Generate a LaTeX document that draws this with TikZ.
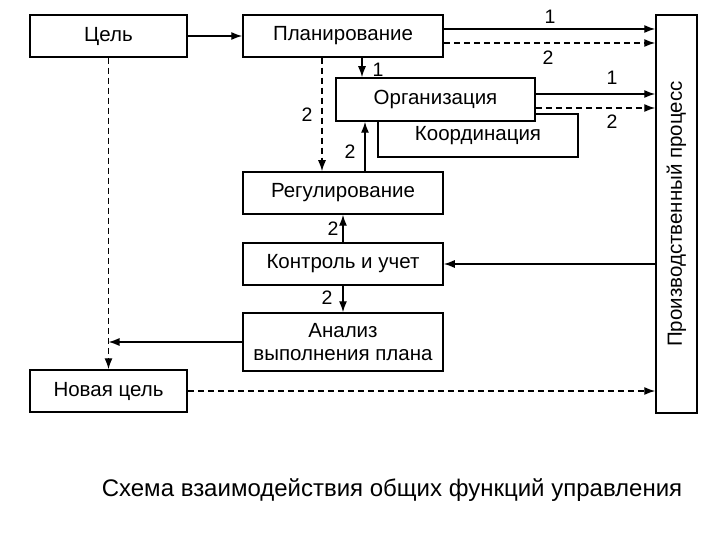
\documentclass[tikz,border=0pt]{standalone}
\usepackage{fontspec}
\setmainfont{Liberation Sans}
\usetikzlibrary{arrows.meta,calc}
\begin{document}
\begin{tikzpicture}[x=1pt,y=-1pt,
  box/.style={draw,line width=1.5pt,fill=white,inner sep=0pt,font=\fontsize{20.5}{23}\selectfont,align=center},
  conn/.style={line width=1.3pt,-{Latex[length=11pt,width=8pt]}},
  dconn/.style={conn,dash pattern=on 6pt off 4pt},
  lbl/.style={font=\fontsize{19.5}{22}\selectfont,inner sep=0pt}]
\useasboundingbox (0,0) rectangle (720,540);
\node[box,minimum width=157pt,minimum height=42pt] (goal) at (108.5,36) {Цель};
\node[box,minimum width=200pt,minimum height=42pt] (plan) at (343,36) {Планирование};
\node[box,minimum width=200pt,minimum height=43pt] (coord) at (478,135.5) {Координация};
\node[box,minimum width=199pt,minimum height=43pt] (org) at (435.5,99.5) {Организация};
\node[box,minimum width=200pt,minimum height=42pt] (reg) at (343,193) {Регулирование};
\node[box,minimum width=200pt,minimum height=42pt] (ctrl) at (343,264) {Контроль и учет};
\node[box,minimum width=200pt,minimum height=58pt,font=\fontsize{20.5}{22.5}\selectfont] (anal) at (343,342) {Анализ\\выполнения плана};
\node[box,minimum width=157pt,minimum height=42pt] (newgoal) at (108.5,391) {Новая цель};
\node[box,rotate=90,minimum width=398pt,minimum height=41pt] (prod) at (676.5,214) {Производственный процесс};
% connectors
\draw[conn] (goal) -- (plan);
\draw[dconn] (goal.south) -- (newgoal.north);
\draw[conn] (anal.west) -- (anal.west -| goal.south);
\draw[dconn] ([xshift=-21pt]plan.south) -- ([xshift=-21pt]reg.north);
\draw[conn] ([xshift=19pt]plan.south) -- ([xshift=19pt]plan.south |- org.north);
\draw[conn] ([xshift=22pt]reg.north) -- ([xshift=22pt]reg.north |- org.south);
\draw[conn] (ctrl.north) -- (reg.south);
\draw[conn] (ctrl.south) -- (anal.north);
\draw[conn] (ctrl.east -| prod.north) -- (ctrl.east);
\draw[dconn] (newgoal.east) -- (newgoal.east -| prod.north);
\draw[conn] ([yshift=7pt]plan.east) -- ([yshift=7pt]plan.east -| prod.north);
\draw[dconn] ([yshift=-7pt]plan.east) -- ([yshift=-7pt]plan.east -| prod.north);
\draw[conn] ([yshift=5.5pt]org.east) -- ([yshift=5.5pt]org.east -| prod.north);
\draw[dconn] ([yshift=-8.5pt]org.east) -- ([yshift=-8.5pt]org.east -| prod.north);
% labels
\node[lbl] (l1) at (550,17) {1};
\node[lbl] (l2) at (548,58) {2};
\node[lbl] (l3) at (612,78) {1};
\node[lbl] (l4) at (612,122) {2};
\node[lbl] (l5) at (307,115) {2};
\node[lbl] (l6) at (378,70) {1};
\node[lbl] (l7) at (350,152) {2};
\node[lbl] (l8) at (333,229) {2};
\node[lbl] (l9) at (327,298) {2};
\node[font=\fontsize{24}{27}\selectfont,inner sep=0pt] (cap) at (392,490) {Схема взаимодействия общих функций управления};
\end{tikzpicture}
\end{document}
